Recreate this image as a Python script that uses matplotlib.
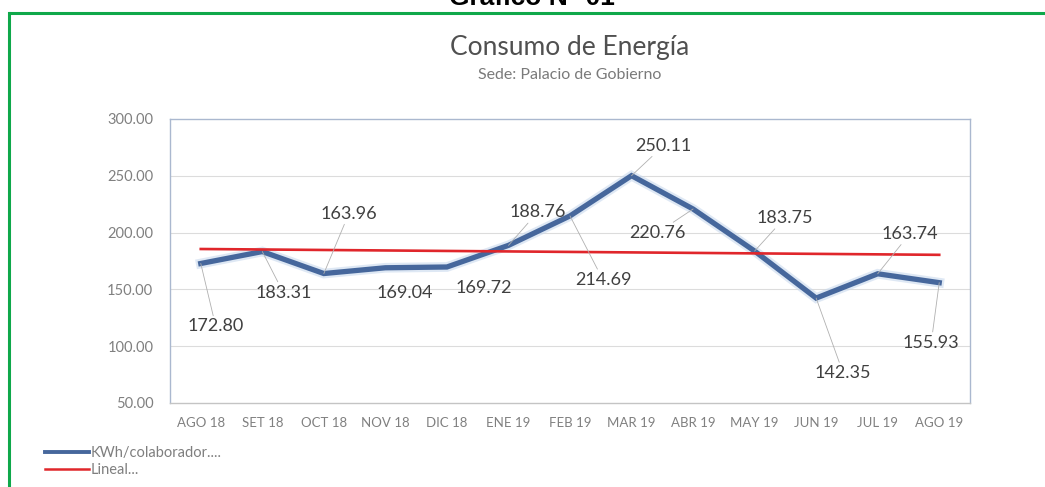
import numpy as np
import matplotlib
matplotlib.use("Agg")
import matplotlib.pyplot as plt
from matplotlib.lines import Line2D

# ---- data ----
months = ["AGO 18", "SET 18", "OCT 18", "NOV 18", "DIC 18", "ENE 19", "FEB 19",
          "MAR 19", "ABR 19", "MAY 19", "JUN 19", "JUL 19", "AGO 19"]
kwh = [172.80, 183.31, 163.96, 169.04, 169.72, 188.76, 214.69,
       250.11, 220.76, 183.75, 142.35, 163.74, 155.93]
yticks = [50, 100, 150, 200, 250, 300]
series_name = "KWh/colaborador...."
trend_name = "Lineal..."
title = "Consumo de Energía"
subtitle = "Sede: Palacio de Gobierno"
header = "Gráfico N° 01"

# label offsets in pixels (style/position, not data)
label_offsets = [(15, -63), (21, -41), (25, 60), (19, -25), (37, -21), (29, 33), (33, -64),
                 (32, 30), (-36, -24), (30, 33), (27, -75), (32, 40), (-8, -60)]
leader = [True, True, True, False, False, True, True, True, True, True, True, True, True]

plt.rcParams['font.family'] = ['Lato', 'DejaVu Sans']

fig = plt.figure(figsize=(10.45, 4.87), dpi=100)
fig.patch.set_facecolor("white")

# green frame
fig.add_artist(Line2D([10/1045, 1.0], [1 - 13/487, 1 - 13/487], color="#0fa84a", lw=2.2,
                      transform=fig.transFigure))
fig.add_artist(Line2D([9/1045, 9/1045], [0, 1 - 13/487], color="#0fa84a", lw=2.2,
                      transform=fig.transFigure))

fig.text(532/1045, 1 - 5/487, header, ha="center", va="baseline", fontsize=19,
         fontweight="bold", family=["Liberation Sans", "DejaVu Sans"], color="black")
fig.text(570/1045, 1 - 47/487, title, ha="center", va="center", fontsize=19,
         color="#505050")
fig.text(570/1045, 1 - 75/487, subtitle, ha="center", va="center", fontsize=11.5,
         color="#7a7a7a")

ax = fig.add_axes([170/1045, 84/487, 800/1045, 284/487])
x = np.arange(len(months))

for yv in yticks[1:-1]:
    ax.axhline(yv, color="#dcdcdc", lw=0.8, zorder=0)

# trend line (linear fit, like Excel's "Lineal" trendline)
coef = np.polyfit(x, kwh, 1)
trend = np.polyval(coef, x)

ax.plot(x, kwh, color="#c9d9ee", lw=7, alpha=0.6, solid_joinstyle="miter", zorder=2)
ax.plot(x, kwh, color="#46679c", lw=3.8, solid_joinstyle="miter", zorder=3)
ax.plot(x, trend, color="#e0262b", lw=1.9, zorder=4)

for i, v in enumerate(kwh):
    dx, dy = label_offsets[i]
    ap = dict(arrowstyle="-", color="#b0b0b0", lw=0.6, shrinkA=0, shrinkB=0) if leader[i] else None
    ax.annotate(f"{v:.2f}", xy=(i, v), xytext=(dx, dy), textcoords="offset pixels",
                ha="center", va="center", fontsize=13, color="#404040",
                arrowprops=ap, zorder=5)

ax.set_xlim(-0.5, len(months) - 0.5)
ax.set_ylim(yticks[0], yticks[-1])
ax.set_yticks(yticks)
ax.set_yticklabels([f"{t:.2f}" for t in yticks])
ax.set_xticks(x)
ax.set_xticklabels(months)
ax.tick_params(axis="y", length=0, pad=12, labelsize=10.5, labelcolor="#808080")
ax.tick_params(axis="x", length=0, pad=10, labelsize=9.5, labelcolor="#808080")

for s in ["top", "left", "right"]:
    ax.spines[s].set_color("#aab8cf")
    ax.spines[s].set_linewidth(1.0)
ax.spines["bottom"].set_color("#c4c4c4")
ax.spines["bottom"].set_linewidth(1.0)

# legend (bottom-left)
handles = [Line2D([], [], color="#46679c", lw=2.8), Line2D([], [], color="#e0262b", lw=1.8)]
fig.legend(handles, [series_name, trend_name], loc="upper left",
           bbox_to_anchor=(45/1045, 1 - 446/487), frameon=False, fontsize=10.5,
           labelcolor="#7f7f7f", handlelength=3.0, handletextpad=0.1,
           labelspacing=0.2, borderpad=0, borderaxespad=0)

fig.savefig("out.png", dpi=100, facecolor="white")
